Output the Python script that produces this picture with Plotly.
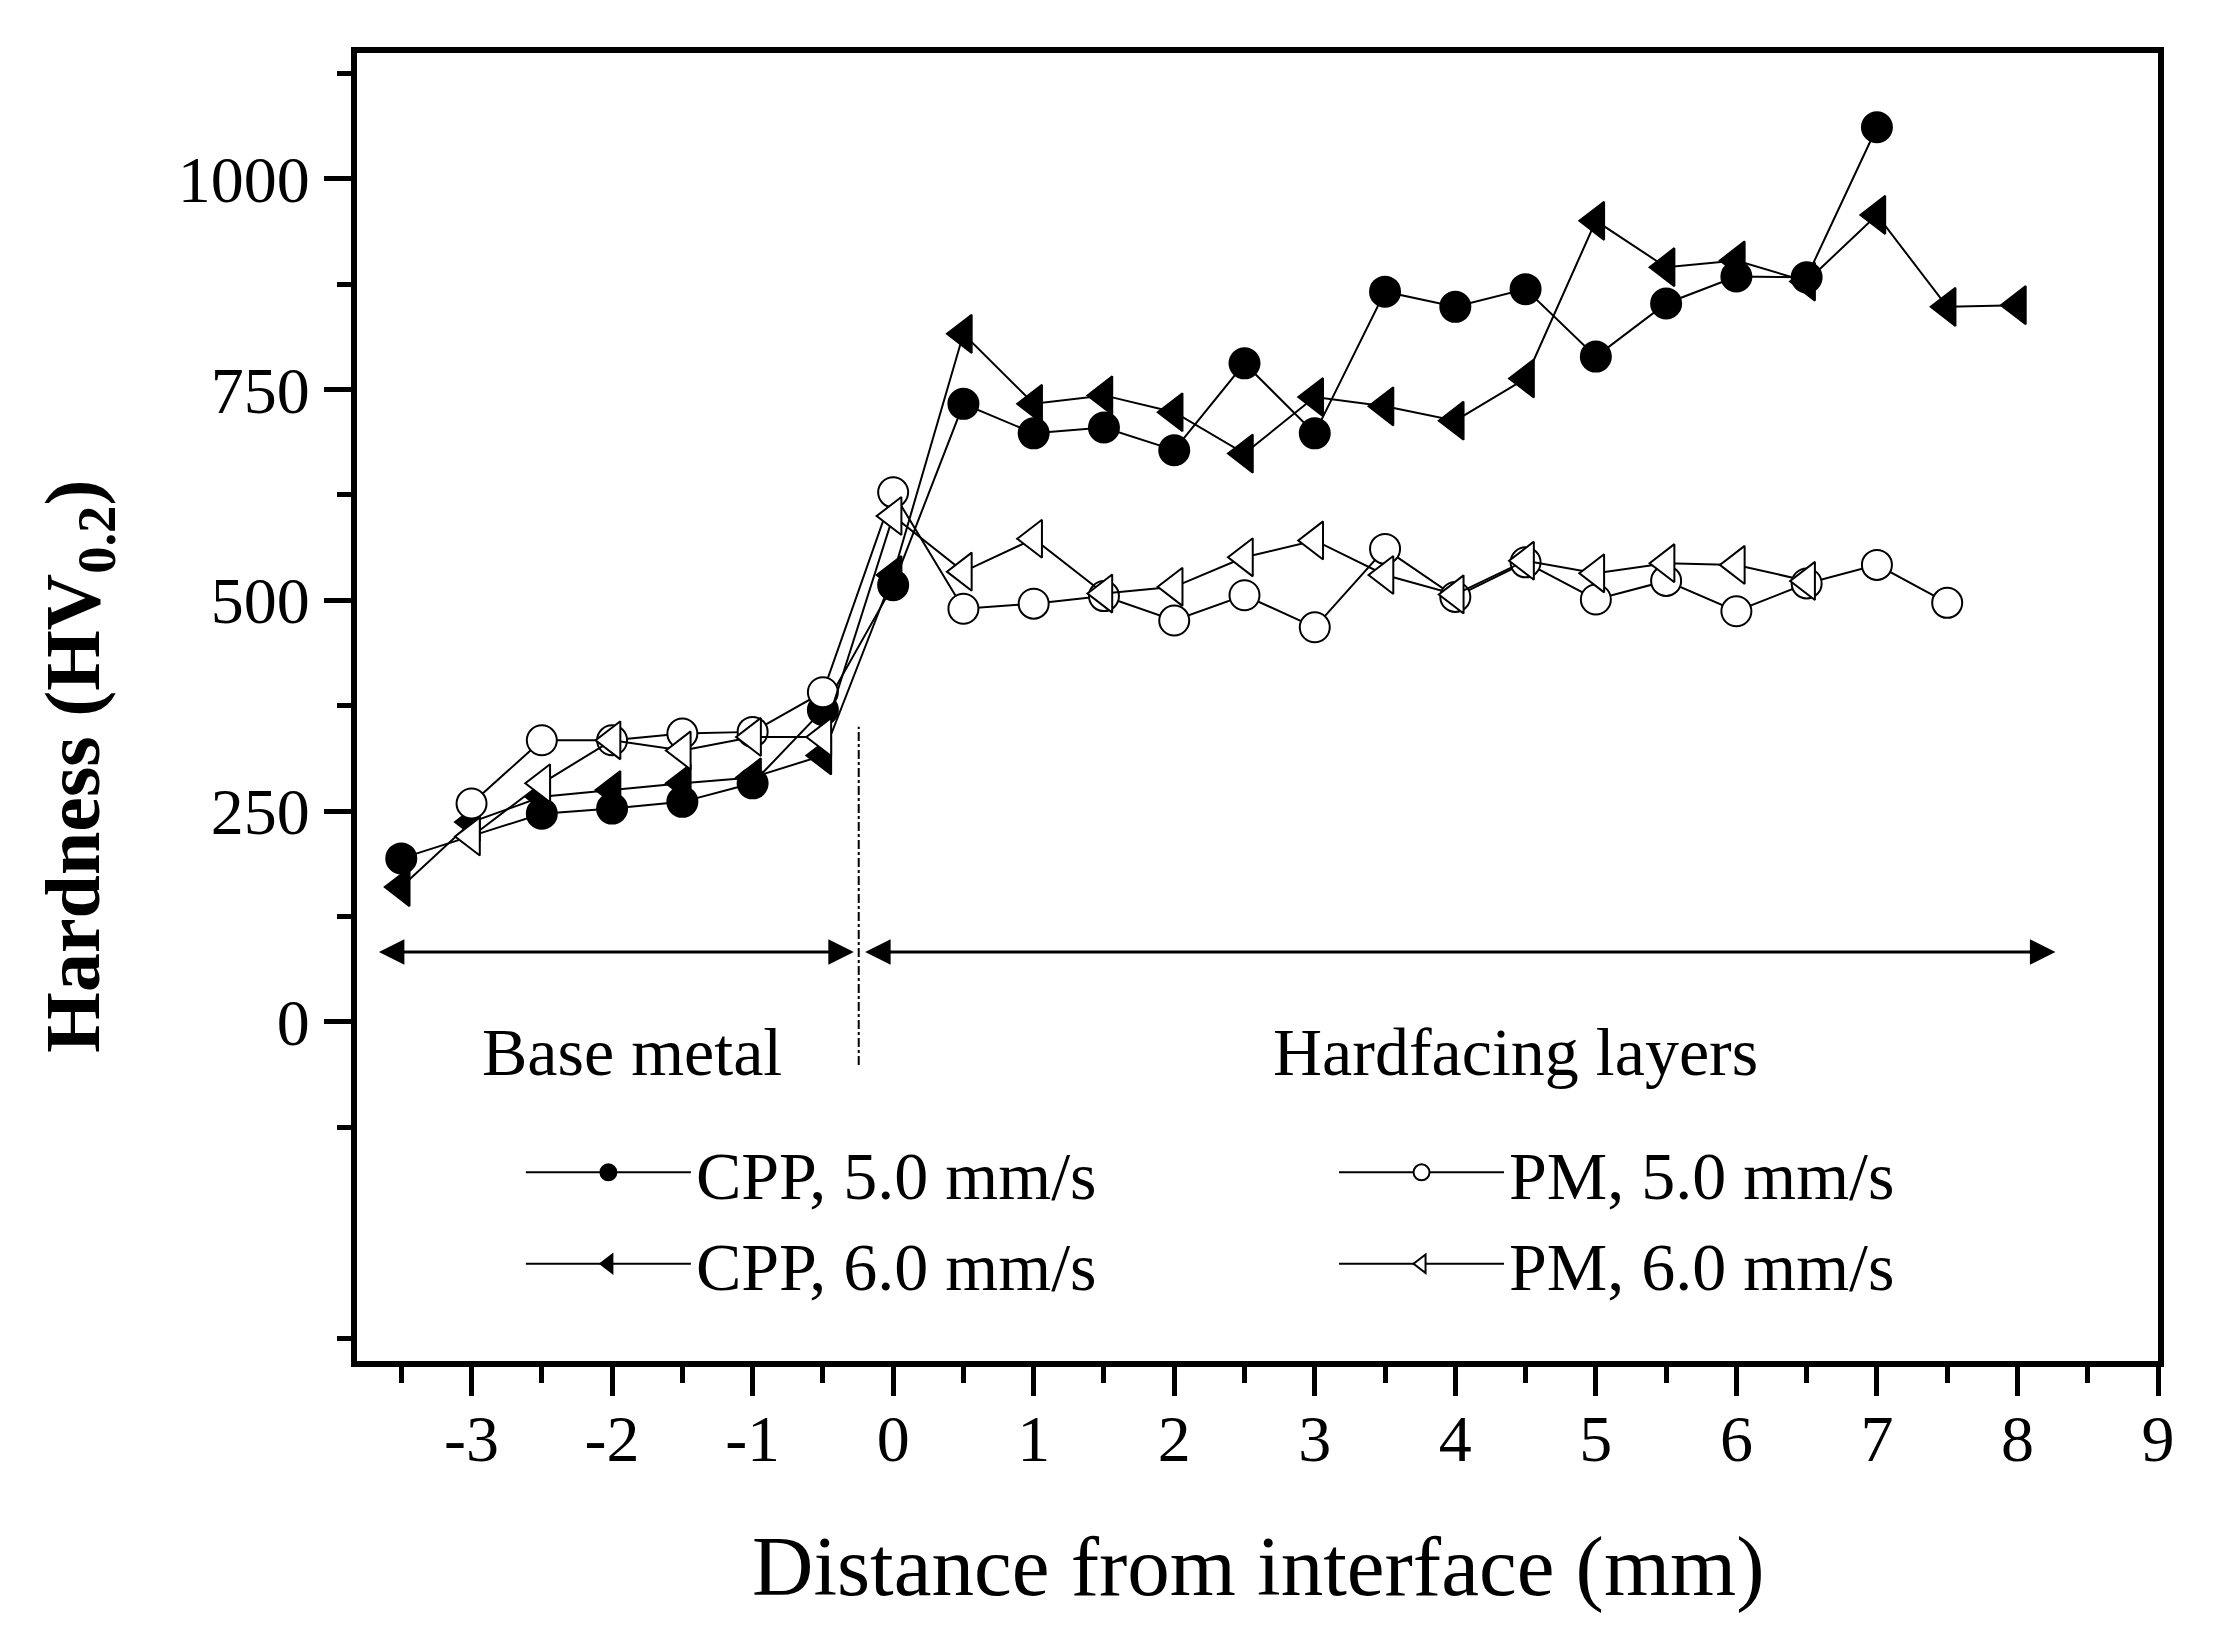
import plotly.graph_objects as go

# hardness profiles (distance in mm, hardness in HV0.2)
cpp5_x = [-3.5, -2.5, -2, -1.5, -1, -0.5, 0, 0.5, 1, 1.5, 2, 2.5, 3, 3.5, 4, 4.5, 5, 5.5, 6, 6.5, 7]
cpp5_y = [194, 247, 253, 261, 283, 370, 518, 733, 698, 705, 678, 781, 698, 866, 848, 869, 789, 852, 884, 883, 1061]

cpp6_x = [-3.5, -3, -2.5, -2, -1.5, -1, -0.5, 0, 0.5, 1, 1.5, 2, 2.5, 3, 3.5, 4, 4.5, 5, 5.5, 6, 6.5, 7, 7.5, 8]
cpp6_y = [160, 237, 267, 275, 283, 290, 316, 530, 816, 733, 743, 723, 674, 741, 730, 713, 763, 950, 895, 903, 878, 957, 848, 850]

pm5_x = [-3, -2.5, -2, -1.5, -1, -0.5, 0, 0.5, 1, 1.5, 2, 2.5, 3, 3.5, 4, 4.5, 5, 5.5, 6, 6.5, 7, 7.5]
pm5_y = [259, 334, 334, 342, 344, 391, 628, 490, 496, 505, 476, 506, 468, 561, 504, 545, 501, 523, 487, 520, 542, 497]

pm6_x = [-3, -2.5, -2, -1.5, -1, -0.5, 0, 0.5, 1, 1.5, 2, 2.5, 3, 3.5, 4, 4.5, 5, 5.5, 6, 6.5]
pm6_y = [220, 283, 334, 322, 338, 338, 600, 534, 573, 508, 516, 551, 571, 530, 507, 547, 532, 544, 542, 523]

x_ticks = [-3, -2, -1, 0, 1, 2, 3, 4, 5, 6, 7, 8, 9]
x_tick_labels = ['-3', '-2', '-1', '0', '1', '2', '3', '4', '5', '6', '7', '8', '9']
y_ticks = [0, 250, 500, 750, 1000]
y_tick_labels = ['0', '250', '500', '750', '1000']

# interface marker, zone arrows and zone labels
interface_x = -0.245
interface_y = [-51, 350]
arrow_y = 83
base_zone = [-3.67, -0.28]
hardfacing_zone = [-0.21, 8.27]
zone_labels = ['Base metal', 'Hardfacing layers']
zone_label_x = [-1.86, 4.43]
zone_label_y = -36

FONT = 'Liberation Serif'

fig = go.Figure()


def add_series(xs, ys, name, symbol, fill, size, legend):
    fig.add_trace(go.Scatter(
        x=xs, y=ys, name=name, mode='lines+markers',
        line=dict(color='black', width=2),
        marker=dict(symbol=symbol, size=size, color=fill,
                    line=dict(color='black', width=2)),
        legend=legend))


add_series(cpp5_x, cpp5_y, 'CPP, 5.0 mm/s', 'circle', 'black', 30, 'legend')
add_series(cpp6_x, cpp6_y, 'CPP, 6.0 mm/s', 'triangle-left', 'black', 33, 'legend')
add_series(pm5_x, pm5_y, 'PM, 5.0 mm/s', 'circle', 'white', 30, 'legend2')
add_series(pm6_x, pm6_y, 'PM, 6.0 mm/s', 'triangle-left', 'white', 33, 'legend2')

# dash-dot line at the interface
fig.add_shape(type='line', x0=interface_x, x1=interface_x,
              y0=interface_y[0], y1=interface_y[1],
              line=dict(color='black', width=2, dash='dashdot'))

for zone in (base_zone, hardfacing_zone):
    fig.add_annotation(x=zone[1], y=arrow_y, ax=zone[0], ay=arrow_y,
                       xref='x', yref='y', axref='x', ayref='y',
                       text='', showarrow=True, arrowside='end+start',
                       arrowhead=2, arrowsize=1.7, arrowwidth=3,
                       arrowcolor='black', standoff=0, startstandoff=0)

for label, lx in zip(zone_labels, zone_label_x):
    fig.add_annotation(x=lx, y=zone_label_y, text=label, showarrow=False,
                       xanchor='center', yanchor='middle',
                       font=dict(family=FONT, size=68, color='black'))

# axis titles as annotations so they sit where the original has them
fig.add_annotation(x=0.5, y=-0.157, xref='paper', yref='paper',
                   xanchor='center', yanchor='middle',
                   text='Distance from interface (mm)', showarrow=False,
                   font=dict(family=FONT, size=85, color='black'))
fig.add_annotation(x=-0.155, y=0.455, xref='paper', yref='paper', textangle=-90,
                   xanchor='center', yanchor='middle',
                   text='<b>Hardness (HV<sub>0.2</sub>)</b>', showarrow=False,
                   font=dict(family=FONT, size=78, color='black'))

axis_common = dict(showline=True, linecolor='black', linewidth=6, mirror=True,
                   showgrid=False, zeroline=False, ticks='outside',
                   tickcolor='black', tickwidth=5,
                   tickfont=dict(family=FONT, size=66, color='black'))

fig.update_xaxes(range=[-3.815, 9], tickmode='array', tickvals=x_ticks,
                 ticktext=x_tick_labels, ticklen=29, ticklabelstandoff=-14,
                 minor=dict(ticks='outside', tickmode='linear', tick0=0.5, dtick=1,
                            ticklen=16, tickwidth=5, tickcolor='black'),
                 **axis_common)
fig.update_yaxes(range=[-402, 1149], tickmode='array', tickvals=y_ticks,
                 ticktext=y_tick_labels, ticklen=27, ticklabelstandoff=1,
                 minor=dict(ticks='outside', tickmode='linear', tick0=125, dtick=250,
                            ticklen=14, tickwidth=5, tickcolor='black'),
                 **axis_common)

legend_common = dict(font=dict(family=FONT, size=68, color='black'),
                     bgcolor='rgba(0,0,0,0)', borderwidth=0,
                     yanchor='top', xanchor='left', itemwidth=165,
                     tracegroupgap=0)

# page body adds an 8 px offset, so the figure is 8 px smaller than the window
fig.update_layout(
    width=2223, height=1640,
    margin=dict(l=349, r=73, t=45, b=287, autoexpand=False),
    template='none',
    paper_bgcolor='white', plot_bgcolor='white',
    showlegend=True,
    legend=dict(x=0.091, y=0.183, **legend_common),
    legend2=dict(x=0.5425, y=0.183, **legend_common),
)

fig.write_html('out.html')
